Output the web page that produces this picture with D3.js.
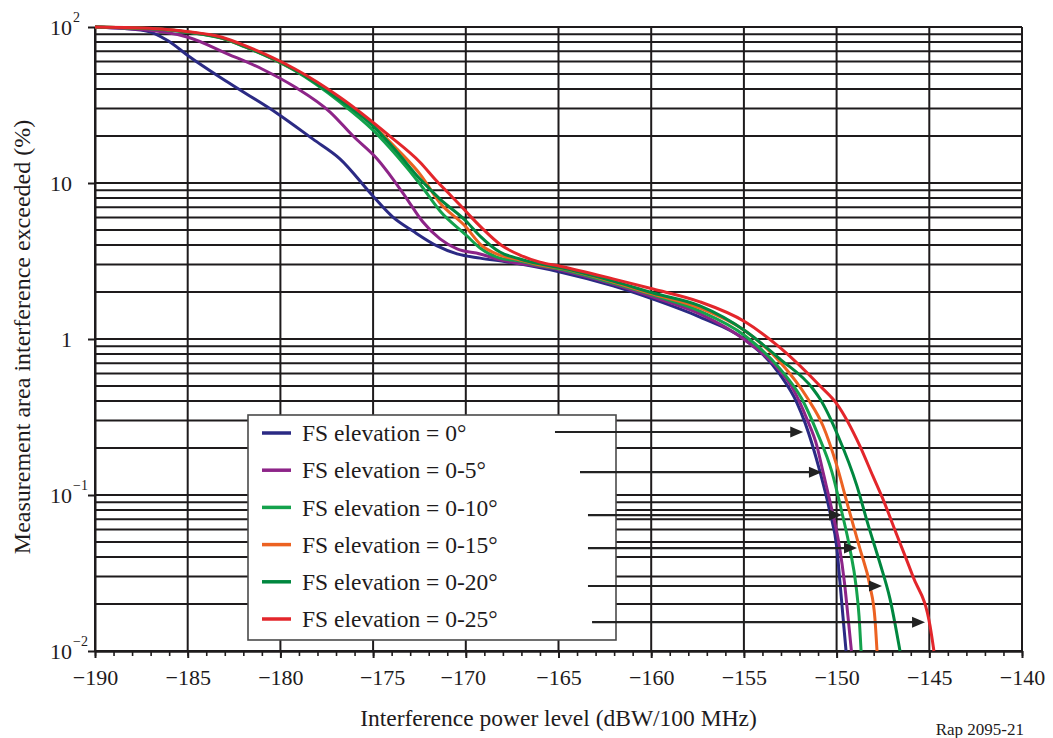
<!DOCTYPE html>
<html>
<head>
<meta charset="utf-8">
<script src="https://cdn.jsdelivr.net/npm/d3@7"></script>
<style>
  html, body { margin: 0; padding: 0; background: #fff; }
  svg { display: block; font-family: "Liberation Serif", "Times New Roman", serif; }
</style>
</head>
<body>
<svg id="chart" width="1053" height="738"></svg>
<script>
// ---- Data: interference power level (dBW/100 MHz) vs. area exceeded (%) ----
const seriesNames = [
  "FS elevation = 0°",
  "FS elevation = 0-5°",
  "FS elevation = 0-10°",
  "FS elevation = 0-15°",
  "FS elevation = 0-20°",
  "FS elevation = 0-25°"
];
const seriesColors = ["#2b2a84", "#8d2488", "#14a24c", "#ec6222", "#00873f", "#e3262b"];

const elev0 = [[-190,100],[-187.3,94.7],[-186.06,81.7],[-184.98,65.5],[-182.83,44.2],[-180.13,27.7],[-178.24,19.1],[-176.79,14.3],[-175.01,8.26],[-173.93,6.05],[-172.85,4.92],[-171.55,3.95],[-170.47,3.51],[-169.23,3.30],[-167.78,3.12],[-164.92,2.69],[-162.06,2.19],[-159.9,1.80],[-157.37,1.38],[-154.94,0.99],[-153.05,0.59],[-152.14,0.39],[-151.7,0.29],[-150.89,0.140],[-150.36,0.0778],[-149.98,0.0451],[-149.82,0.0277],[-149.66,0.0168],[-149.49,0.01]];
const elev0to5 = [[-190,100],[-186.39,93.3],[-184.98,85.9],[-182.83,67.1],[-180.99,53.8],[-179.21,41.2],[-177.32,28.5],[-176.08,20.0],[-174.79,14.3],[-173.93,10.6],[-173.17,7.89],[-172.31,5.62],[-171.39,4.38],[-170.47,3.78],[-169.23,3.51],[-168.32,3.26],[-164.92,2.77],[-162.06,2.25],[-159.9,1.86],[-157.37,1.45],[-154.94,0.985],[-153.05,0.624],[-152.35,0.478],[-151.6,0.307],[-151.06,0.206],[-150.73,0.140],[-150.25,0.080],[-149.85,0.047],[-149.58,0.0277],[-149.39,0.0168],[-149.2,0.01]];
const elev0to10 = [[-190,100],[-186.39,96.5],[-184.98,92.5],[-183.15,84.5],[-181.91,74.5],[-180.45,62.6],[-179.21,52.4],[-176.79,33.0],[-174.95,21.5],[-173.71,14.9],[-172.47,9.86],[-171.39,6.62],[-169.99,4.64],[-169.23,3.83],[-168.16,3.30],[-167.08,3.16],[-166.0,2.96],[-164.92,2.81],[-162.06,2.28],[-159.9,1.91],[-157.37,1.51],[-154.94,1.05],[-153.05,0.643],[-151.87,0.412],[-151.06,0.253],[-150.25,0.140],[-149.72,0.0778],[-149.28,0.0451],[-148.95,0.0261],[-148.79,0.0168],[-148.68,0.01]];
const elev0to15 = [[-190,100],[-186.39,96.8],[-184.98,92.8],[-183.15,85],[-181.91,75],[-180.45,63],[-179.21,53],[-176.79,34.5],[-174.95,23.2],[-173.71,16.5],[-172.47,11.4],[-171.39,7.44],[-169.99,5.22],[-169.23,4.06],[-168.16,3.45],[-167.08,3.21],[-166.0,2.98],[-164.92,2.85],[-162.06,2.32],[-159.9,1.94],[-157.37,1.58],[-154.94,1.13],[-153.05,0.712],[-151.54,0.412],[-150.73,0.277],[-149.98,0.153],[-149.39,0.085],[-148.74,0.0451],[-148.2,0.0261],[-147.93,0.016],[-147.82,0.01]];
const elev0to20 = [[-190,100],[-186.39,96.6],[-184.98,92.6],[-183.15,84.8],[-181.91,74.8],[-180.45,62.8],[-179.21,52.8],[-176.79,34],[-174.95,22.9],[-173.71,15.8],[-172.47,10.6],[-171.39,7.89],[-169.99,5.71],[-169.23,4.57],[-168.16,3.61],[-167.08,3.26],[-166.0,3.03],[-164.92,2.87],[-162.06,2.35],[-159.9,1.97],[-157.37,1.63],[-154.94,1.13],[-153.05,0.744],[-151.27,0.478],[-150.89,0.412],[-149.92,0.239],[-148.9,0.114],[-148.31,0.065],[-147.66,0.0365],[-147.12,0.0216],[-146.58,0.01]];
const elev0to25 = [[-190,100],[-186.39,97.1],[-184.98,93.3],[-183.15,85.9],[-181.91,75.9],[-180.45,63.9],[-179.21,53.8],[-176.79,35.5],[-174.1,20],[-172.47,13.6],[-171.57,10.3],[-170.76,8.2],[-170.3,7.2],[-169.8,6.2],[-169.1,5.1],[-168.1,4.0],[-167.08,3.45],[-166.0,3.11],[-164.92,2.93],[-162.06,2.43],[-159.9,2.09],[-157.37,1.73],[-154.94,1.29],[-153.05,0.88],[-150.89,0.50],[-149.98,0.383],[-148.74,0.206],[-148.04,0.132],[-147.5,0.094],[-146.74,0.055],[-145.88,0.030],[-144.96,0.0145],[-144.75,0.01]];
const seriesValues = [elev0, elev0to5, elev0to10, elev0to15, elev0to20, elev0to25];

// Axis ticks
const xTicks = [-190, -185, -180, -175, -170, -165, -160, -155, -150, -145, -140];
const xLabelShift = { "-175": 9, "-170": -3 };
const yTickValues = [0.01, 0.1, 1, 10, 100];
const yTickBase = ["10", "10", "1", "10", "10"];
const yTickExp = ["\u22122", "\u22121", "", "", "2"];

// Arrows pointing from each legend row to its curve
const arrowLevel = [0.2535, 0.140, 0.0744, 0.0457, 0.0261, 0.0153];
const arrowFrom = [-165.19, -163.84, -163.41, -163.41, -163.41, -163.19];
const arrowTo = [-151.8, -150.79, -149.71, -148.9, -147.55, -145.23];

// ---- Layout ----
const W = 1053, H = 738;
const margin = { top: 27, right: 31, bottom: 87, left: 95 };
const svg = d3.select("#chart");
const ink = "#1e1b1c";

const x = d3.scaleLinear().domain([-190, -140]).range([margin.left, W - margin.right]);
const y = d3.scaleLog().domain([0.01, 100]).range([H - margin.bottom, margin.top]);

// Horizontal log grid (1..9 per decade)
const yGrid = [];
for (let k = -2; k <= 1; k++) for (let m = 1; m <= 9; m++) yGrid.push(m * Math.pow(10, k));
yGrid.push(100);

const grid = svg.append("g").attr("stroke", ink).attr("stroke-width", 2);
grid.selectAll("line.h").data(yGrid).join("line")
  .attr("class", "h")
  .attr("x1", x(-190)).attr("x2", x(-140))
  .attr("y1", d => y(d)).attr("y2", d => y(d));
grid.selectAll("line.v").data(xTicks).join("line")
  .attr("class", "v")
  .attr("x1", d => x(d)).attr("x2", d => x(d))
  .attr("y1", y(100)).attr("y2", y(0.01));

// Bottom axis: minor ticks every 1 dB, major every 5 dB with labels
const xMinor = d3.axisBottom(x).tickValues(d3.range(-190, -139, 1)).tickSize(5).tickSizeOuter(0).tickFormat("");
const gxMinor = svg.append("g").attr("transform", `translate(0,${y(0.01)})`).call(xMinor);
gxMinor.select(".domain").attr("stroke", ink).attr("stroke-width", 2.5);
gxMinor.selectAll(".tick line").attr("stroke", ink).attr("stroke-width", 1.6);

const xMajor = d3.axisBottom(x).tickValues(xTicks).tickSize(7).tickSizeOuter(0).tickPadding(11)
  .tickFormat(d3.format("d"));
const gxMajor = svg.append("g").attr("transform", `translate(0,${y(0.01)})`).call(xMajor);
gxMajor.select(".domain").remove();
gxMajor.selectAll(".tick line").attr("stroke", ink).attr("stroke-width", 2);
gxMajor.selectAll(".tick text")
  .attr("font-family", "Liberation Serif, serif")
  .attr("font-size", 22).attr("fill", ink)
  .attr("dx", d => xLabelShift[String(d)] || 0);

// Left axis: decade ticks with powers-of-ten labels
const yAxis = d3.axisLeft(y).tickValues(yTickValues).tickSize(7).tickSizeOuter(0).tickFormat("");
const gy = svg.append("g").attr("transform", `translate(${x(-190)},0)`).call(yAxis);
gy.select(".domain").attr("stroke", ink).attr("stroke-width", 2);
gy.selectAll(".tick line").attr("stroke", ink).attr("stroke-width", 2);

const yl = svg.append("g").attr("fill", ink);
yl.selectAll("text.base").data(yTickValues).join("text")
  .attr("class", "base")
  .attr("x", 72).attr("y", d => y(d)).attr("dy", "0.35em")
  .attr("text-anchor", "end").attr("font-size", 22)
  .text((d, i) => yTickBase[i]);
yl.selectAll("text.exp").data(yTickValues).join("text")
  .attr("class", "exp")
  .attr("x", 73).attr("y", d => y(d) - 10).attr("dy", "0.35em")
  .attr("text-anchor", "start").attr("font-size", 14)
  .text((d, i) => yTickExp[i]);

// Curves
const line = d3.line().curve(d3.curveMonotoneX).x(d => x(d[0])).y(d => y(d[1]));
svg.append("g").attr("fill", "none").attr("stroke-width", 3).attr("stroke-linejoin", "round")
  .selectAll("path").data(seriesValues).join("path")
  .attr("stroke", (d, i) => seriesColors[i])
  .attr("d", line);

// Legend
const legend = svg.append("g");
legend.append("rect")
  .attr("x", 248).attr("y", 415).attr("width", 368).attr("height", 225)
  .attr("fill", "#fff").attr("stroke", "#4a4a4a").attr("stroke-width", 1.6);
const rows = legend.selectAll("g.row").data(seriesNames).join("g")
  .attr("class", "row")
  .attr("transform", (d, i) => `translate(0,${433 + i * 37.2})`);
rows.append("line")
  .attr("x1", 262).attr("x2", 291)
  .attr("stroke", (d, i) => seriesColors[i]).attr("stroke-width", 3.5);
rows.append("text")
  .attr("x", 302).attr("dy", "0.35em")
  .attr("font-size", 23.5).attr("fill", ink)
  .text(d => d);

// Arrows
const arrows = svg.append("g").selectAll("g").data(arrowLevel).join("g");
arrows.append("line")
  .attr("x1", (d, i) => x(arrowFrom[i])).attr("x2", (d, i) => x(arrowTo[i]) - 10)
  .attr("y1", d => y(d)).attr("y2", d => y(d))
  .attr("stroke", "#222").attr("stroke-width", 2.2);
arrows.append("path")
  .attr("d", (d, i) => {
    const tx = x(arrowTo[i]), ty = y(d);
    return `M${tx},${ty}L${tx - 13},${ty - 5.5}L${tx - 13},${ty + 5.5}Z`;
  })
  .attr("fill", "#222");

// Axis titles
svg.append("text")
  .attr("x", (x(-190) + x(-140)) / 2).attr("y", 726)
  .attr("text-anchor", "middle").attr("font-size", 23.5).attr("fill", ink)
  .text("Interference power level (dBW/100 MHz)");
svg.append("text")
  .attr("transform", `translate(30,${(y(0.01) + y(100)) / 2 - 2}) rotate(-90)`)
  .attr("text-anchor", "middle").attr("font-size", 24).attr("fill", ink)
  .text("Measurement area interference exceeded (%)");

// Figure reference
svg.append("text")
  .attr("x", 1024).attr("y", 735)
  .attr("text-anchor", "end").attr("font-size", 17).attr("fill", ink)
  .text("Rap 2095-21");
</script>
</body>
</html>
